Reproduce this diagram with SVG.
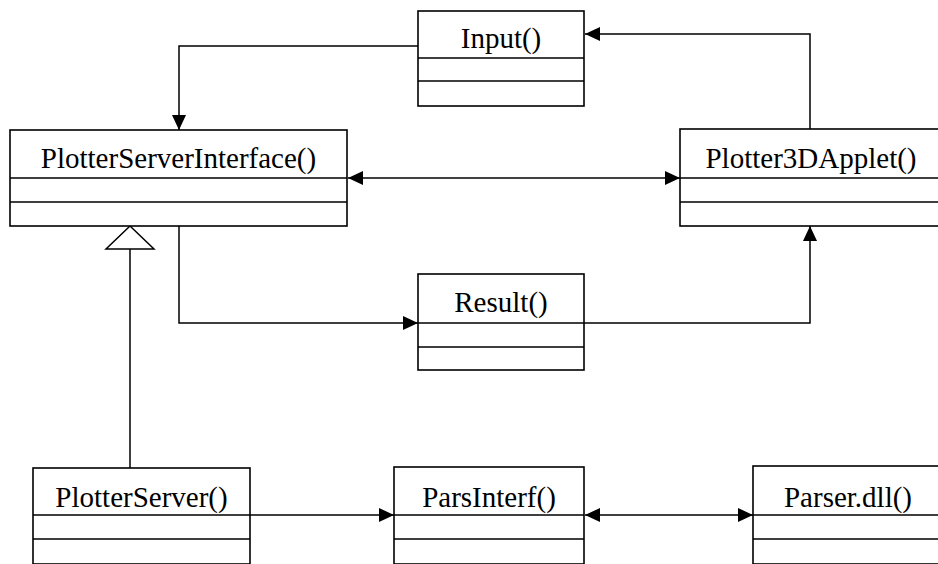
<svg xmlns="http://www.w3.org/2000/svg" width="938" height="564" viewBox="0 0 938 564">
  <defs>
    <style>
      .box { fill: #fff; stroke: #000; stroke-width: 1.6; }
      .sep { stroke: #000; stroke-width: 1.6; fill: none; }
      .lbl { font-family: 'Liberation Serif', Tinos, 'Times New Roman', 'DejaVu Serif', serif; font-size: 29px; fill: #000; text-anchor: middle; }
      .conn { fill: none; stroke: #000; stroke-width: 1.5; }
    </style>
    <marker id="arrow" markerUnits="userSpaceOnUse" markerWidth="15" markerHeight="14" viewBox="0 0 15 14" refX="15" refY="7" orient="auto-start-reverse">
      <path d="M0,0 L15,7 L0,14 z" fill="#000"/>
    </marker>
  </defs>
  <rect width="938" height="564" fill="#fff"/>

  <!-- connectors -->
  <g id="connectors">
    <path class="conn" d="M418,46 H179 V130" marker-end="url(#arrow)"/>
    <path class="conn" d="M810,129 V34 H585" marker-end="url(#arrow)"/>
    <path class="conn" d="M348,178 H680" marker-start="url(#arrow)" marker-end="url(#arrow)"/>
    <path class="conn" d="M179,226 V323 H418" marker-end="url(#arrow)"/>
    <path class="conn" d="M584,323 H810 V226" marker-end="url(#arrow)"/>
    <path class="conn" d="M130,468 V249"/>
    <polygon class="conn" points="106,249 154,249 130,226" fill="#fff"/>
    <path class="conn" d="M250,515 H394" marker-end="url(#arrow)"/>
    <path class="conn" d="M585,515 H753" marker-start="url(#arrow)" marker-end="url(#arrow)"/>
  </g>

  <g id="input">
    <rect class="box" x="418" y="11" width="166" height="95"/>
    <path class="sep" d="M418,58 H584 M418,81 H584"/>
    <text class="lbl" x="501" y="48">Input()</text>
  </g>

  <g id="plotter-server-interface">
    <rect class="box" x="10" y="130" width="337" height="96"/>
    <path class="sep" d="M10,178 H347 M10,202 H347"/>
    <text class="lbl" x="178.5" y="168">PlotterServerInterface()</text>
  </g>

  <g id="plotter-3d-applet">
    <rect class="box" x="680" y="129" width="262" height="97"/>
    <path class="sep" d="M680,178 H942 M680,202 H942"/>
    <text class="lbl" x="811" y="168">Plotter3DApplet()</text>
  </g>

  <g id="result">
    <rect class="box" x="418" y="274" width="166" height="96"/>
    <path class="sep" d="M418,323 H584 M418,347 H584"/>
    <text class="lbl" x="501" y="312">Result()</text>
  </g>

  <g id="plotter-server">
    <rect class="box" x="33" y="468" width="217" height="96"/>
    <path class="sep" d="M33,515 H250 M33,539 H250"/>
    <text class="lbl" x="141.5" y="507">PlotterServer()</text>
  </g>

  <g id="pars-interf">
    <rect class="box" x="394" y="467" width="190" height="97"/>
    <path class="sep" d="M394,515 H584 M394,539 H584"/>
    <text class="lbl" x="489" y="507">ParsInterf()</text>
  </g>

  <g id="parser-dll">
    <rect class="box" x="753" y="466" width="190" height="98"/>
    <path class="sep" d="M753,515 H943 M753,539 H943"/>
    <text class="lbl" x="848" y="507">Parser.dll()</text>
  </g>
</svg>
